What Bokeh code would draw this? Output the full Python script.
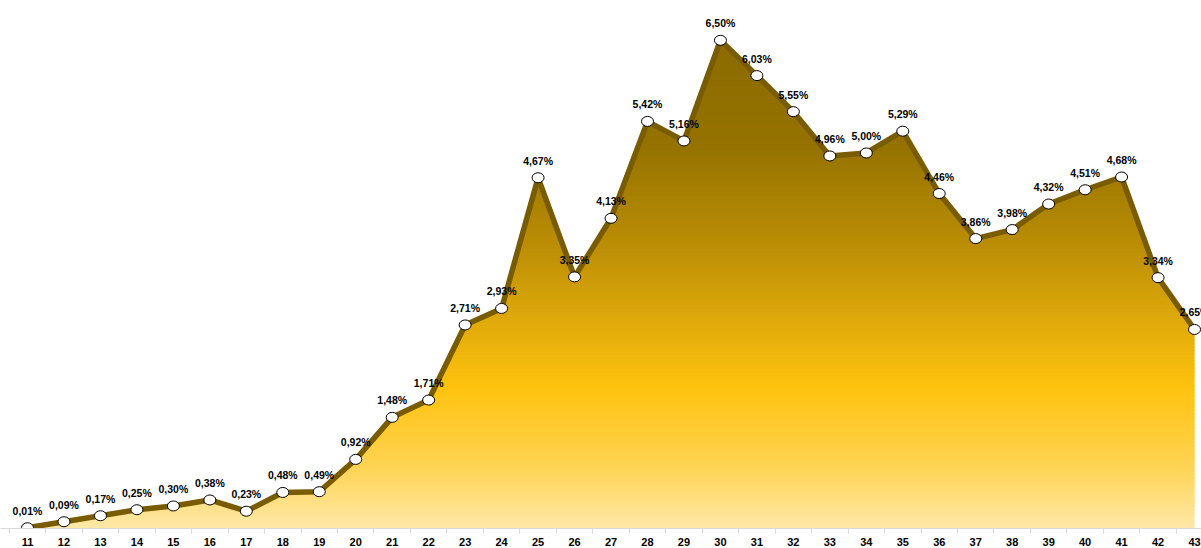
import numpy as np
from bokeh.plotting import figure
from bokeh.models import Range1d, FixedTicker, ColumnDataSource
from bokeh.core.properties import value
from bokeh.embed import file_html
from bokeh.resources import INLINE

categories = list(range(11, 44))
values = [0.01, 0.09, 0.17, 0.25, 0.30, 0.38, 0.23, 0.48, 0.49, 0.92, 1.48, 1.71,
          2.71, 2.93, 4.67, 3.35, 4.13, 5.42, 5.16, 6.50, 6.03, 5.55, 4.96, 5.00,
          5.29, 4.46, 3.86, 3.98, 4.32, 4.51, 4.68, 3.34, 2.65]
labels = [("%.2f" % v).replace(".", ",") + "%" for v in values]

Y_TOP = 7.03
p = figure(width=1201, height=548, output_backend="svg", toolbar_location=None,
           x_range=Range1d(10.2597, 43.1909), y_range=Range1d(0, Y_TOP),
           y_axis_location=None, min_border=0)
p.outline_line_color = None
p.xgrid.visible = False
p.ygrid.visible = False
p.background_fill_color = "white"
p.border_fill_color = "white"

# gradient fill (styling): strips from bottom to top between first and last category
stops_v = [0.0, 0.8, 1.87, 3.72, 5.05, 6.5, Y_TOP]
stops_c = [(0xff, 0xe9, 0xa9), (0xff, 0xd4, 0x55), (0xff, 0xc2, 0x0e),
           (0xbd, 0x8f, 0x06), (0x96, 0x73, 0x00), (0x8b, 0x6b, 0x00), (0x8b, 0x6b, 0x00)]
top_fill = 6.6
n = 140
dy = top_fill / n
bottoms = np.arange(n) * dy
cols = []
for b in bottoms:
    m = b + dy / 2
    rgb = [int(round(np.interp(m, stops_v, [c[k] for c in stops_c]))) for k in range(3)]
    cols.append("#%02x%02x%02x" % tuple(rgb))
p.quad(left=categories[0], right=categories[-1], bottom=bottoms,
       top=np.minimum(bottoms + dy * 1.6, top_fill), fill_color=cols, line_color=None)

# white mask above the series line
x0, x1 = categories[0] - 1, categories[-1] + 1
mask_x = categories + [x1, x1, x0, x0]
mask_y = values + [values[-1], Y_TOP + 1, Y_TOP + 1, values[0]]
p.patch(mask_x, mask_y, fill_color="white", line_color=None)

src = ColumnDataSource(dict(x=categories, y=values, t=labels))
p.line("x", "y", source=src, line_color="#7a5c00", line_width=5.5, line_join="round")
p.ellipse("x", "y", width=12, height=10, width_units="screen", height_units="screen",
          source=src, fill_color="white", line_color="black", line_width=1)
p.text("x", "y", text="t", source=src, text_align="center", text_baseline="middle",
       y_offset=-17, text_font=value("Liberation Sans"), text_font_style="bold",
       text_font_size="10.5px", text_color="black")

ax = p.xaxis[0]
ax.ticker = FixedTicker(ticks=categories, minor_ticks=[c - 0.5 for c in categories] + [categories[-1] + 0.5])
ax.major_tick_line_color = None
ax.major_tick_out = 0
ax.minor_tick_line_color = "#d9d9d9"
ax.minor_tick_out = 5
ax.minor_tick_in = 0
ax.axis_line_color = "#d9d9d9"
ax.major_label_standoff = 4
ax.major_label_text_font = "Liberation Sans"
ax.major_label_text_font_style = "bold"
ax.major_label_text_font_size = "11px"
ax.major_label_text_color = "black"

open("out.html", "w").write(file_html(p, INLINE))
